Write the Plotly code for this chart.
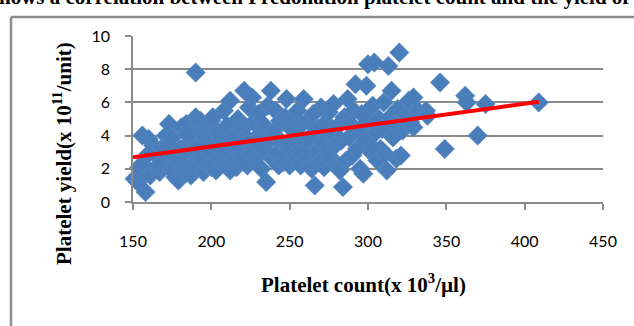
import plotly.graph_objects as go

# Platelet count (x 10^3/ul)
count_x = [
    151, 153, 154, 156, 158, 156, 160, 163, 161, 165, 167, 168, 170, 171, 172, 173, 174, 166, 160, 175,
    177, 179, 178, 180, 181, 182, 184, 185, 186, 187, 188, 189, 190, 190, 191, 192, 193, 194, 195, 196,
    197, 198, 199, 200, 200, 183, 176, 185,
    201, 202, 203, 204, 205, 206, 207, 208, 209, 210, 211, 212, 213, 214, 215, 216, 217, 218, 219, 220,
    221, 222, 223, 224, 225, 212,
    226, 227, 228, 229, 230, 231, 232, 233, 234, 235, 236, 237, 238, 239, 240, 241, 242, 243, 244, 245,
    246, 247, 248, 249, 250, 250,
    251, 252, 253, 254, 255, 256, 257, 258, 259, 260, 261, 262, 263, 264, 265, 266, 267, 268, 269, 270,
    271, 272, 273, 274, 275, 258,
    276, 277, 278, 279, 280, 281, 282, 283, 284, 285, 286, 287, 288, 289, 290, 291, 292, 293, 294, 295,
    296, 297, 298, 299, 300, 300, 298,
    302, 303, 304, 305, 306, 307, 308, 309, 310, 311, 312, 313, 314, 315, 316, 317, 318, 319, 320, 321,
    322, 324, 326, 327, 329, 329, 332, 303, 316,
    337, 338, 346, 349, 362, 363, 370, 375, 409,
]
# Platelet yield (x 10^11/unit)
yield_y = [
    1.4, 1.2, 2.1, 2.3, 0.6, 4.0, 3.8, 3.4, 1.6, 2.8, 1.8, 3.2, 2.5, 4.0, 3.5, 4.7, 2.0, 2.2, 2.9, 3.9,
    1.5, 1.3, 2.6, 3.2, 4.5, 1.9, 4.7, 2.3, 3.6, 1.6, 2.9, 4.2, 7.8, 5.1, 2.0, 3.3, 4.9, 2.6, 1.8, 3.9,
    4.5, 2.2, 3.0, 4.9, 2.1, 3.0, 2.8, 4.0,
    5.1, 3.5, 1.9, 4.2, 2.7, 3.8, 2.3, 5.5, 3.1, 4.6, 2.1, 6.1, 3.6, 2.5, 4.0, 2.1, 5.0, 3.3, 2.8, 4.4,
    6.7, 3.9, 2.2, 5.7, 3.0, 1.9,
    6.3, 4.8, 2.6, 3.5, 5.3, 4.1, 2.0, 3.2, 4.6, 1.2, 5.8, 3.7, 6.7, 2.6, 4.3, 5.5, 3.0, 2.2, 4.9, 3.6,
    2.4, 5.1, 6.2, 3.3, 4.5, 2.2,
    5.0, 3.8, 2.8, 4.2, 5.5, 3.1, 2.2, 4.7, 6.2, 3.5, 2.6, 4.9, 3.9, 2.0, 5.3, 1.0, 3.0, 4.4, 2.4, 5.7,
    3.6, 2.1, 4.8, 3.2, 5.4, 2.9,
    2.7, 4.1, 5.9, 3.4, 2.2, 4.6, 1.9, 3.7, 0.9, 5.1, 2.5, 6.2, 3.9, 4.7, 2.8, 5.5, 7.1, 3.2, 4.3, 2.0,
    5.3, 1.7, 3.7, 7.0, 8.3, 4.9, 5.3,
    3.0, 5.8, 8.4, 4.2, 2.5, 5.0, 3.2, 4.4, 6.0, 2.9, 1.9, 8.2, 5.1, 6.7, 3.9, 4.6, 2.6, 5.6, 9.0, 2.8,
    4.3, 5.2, 6.1, 4.8, 6.3, 4.5, 5.5, 3.3, 3.9,
    5.5, 5.2, 7.2, 3.2, 6.4, 6.0, 4.0, 5.9, 6.0,
]
# Linear trendline end points
trend_x = [150, 409]
trend_y = [2.7, 6.04]

x_ticks = [150, 200, 250, 300, 350, 400, 450]
y_ticks = [0, 2, 4, 6, 8, 10]

x_title = "<b>Platelet count(x 10<sup>3</sup>/µl)</b>"
y_title = "<b>Platelet yield(x 10<sup>11</sup>/unit)</b>"
top_text = "<b>hows a correlation between Predonation platelet count and the yield of</b>"

W, H = 634, 326
L, R, T, B = 133, 31, 36, 124
pw, ph = W - L - R, H - T - B

def px(p):
    return (p - L) / pw

def py(p):
    return (H - B - p) / ph

serif = "Liberation Serif, Times New Roman, serif"

fig = go.Figure()
fig.add_trace(go.Scatter(
    x=count_x, y=yield_y, mode="markers",
    marker=dict(symbol="diamond", size=15, color="#4A7EBB",
                line=dict(color="#5A8AC6", width=0.5)),
    showlegend=False, cliponaxis=False,
))
fig.add_trace(go.Scatter(
    x=trend_x, y=trend_y, mode="lines",
    line=dict(color="#FF0000", width=4),
    showlegend=False,
))

grid = "#8A8A8A"
fig.update_layout(
    width=W, height=H,
    margin=dict(l=L, r=R, t=T, b=B, pad=0),
    paper_bgcolor="white", plot_bgcolor="white",
    font=dict(family="Lato, Open Sans, sans-serif", size=16, color="black"),
    xaxis=dict(
        range=[150, 450], tickvals=x_ticks, showgrid=False, zeroline=False,
        showline=True, linecolor=grid, linewidth=1.5, automargin=False,
        ticks="outside", ticklen=6, tickcolor=grid, tickwidth=1.5,
        ticklabelstandoff=18,
    ),
    yaxis=dict(
        range=[0, 10], tickvals=y_ticks, showgrid=True, gridcolor=grid, gridwidth=1.5,
        zeroline=False, showline=True, linecolor=grid, linewidth=1.5, automargin=False,
        ticks="outside", ticklen=6, tickcolor=grid, tickwidth=1.5,
        ticklabelstandoff=12,
    ),
    shapes=[
        dict(type="line", xref="paper", yref="paper",
             x0=px(11), x1=px(11), y0=py(17), y1=py(H + 5),
             line=dict(color="#8C8C8C", width=2.5)),
        dict(type="line", xref="paper", yref="paper",
             x0=px(11), x1=px(W + 5), y0=py(17), y1=py(17),
             line=dict(color="#8C8C8C", width=2.5)),
    ],
    annotations=[
        dict(text=top_text,
             xref="paper", yref="paper", x=px(-3), y=py(11),
             xanchor="left", yanchor="bottom", showarrow=False,
             font=dict(family=serif, size=21, color="black")),
        dict(text=x_title,
             xref="paper", yref="paper", x=px(363), y=py(283),
             xanchor="center", yanchor="middle", showarrow=False,
             font=dict(family=serif, size=21, color="black")),
        dict(text=y_title, textangle=-90,
             xref="paper", yref="paper", x=px(62), y=py(154),
             xanchor="center", yanchor="middle", showarrow=False,
             font=dict(family=serif, size=21, color="black")),
    ],
)

fig.write_html("out.html", config={"displayModeBar": False},
               post_script="document.body.style.margin='0';document.body.style.padding='0';")
